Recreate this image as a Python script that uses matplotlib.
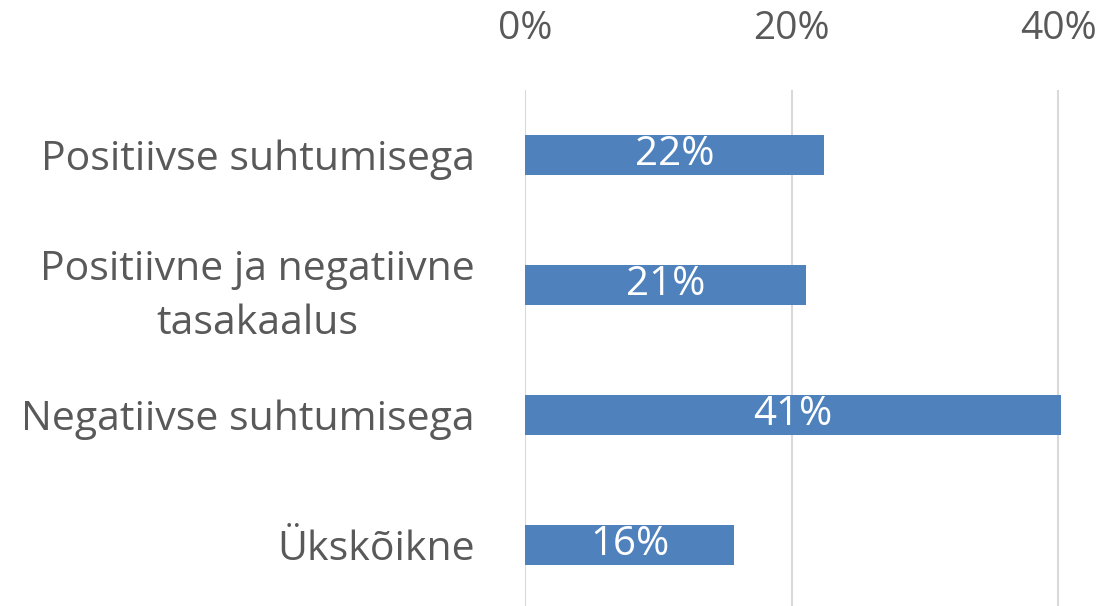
import matplotlib
matplotlib.use("Agg")
import matplotlib.pyplot as plt
from matplotlib.ticker import PercentFormatter

categories = ["Positiivse suhtumisega", "Positiivne ja negatiivne\ntasakaalus",
              "Negatiivse suhtumisega", "Ükskõikne"]
values = [0.224, 0.211, 0.41, 0.157]
labels = ["22%", "21%", "41%", "16%"]
xticks = [0, 0.2, 0.4]

W, H = 1107, 606
fig = plt.figure(figsize=(W / 100, H / 100), dpi=100)
left, right, top = 525, 1061, 90
ax = fig.add_axes([left / W, 0, (right - left) / W, (H - top) / H])

font = "Open Sans"
txt = "#595959"
ypos = list(range(len(categories)))
ax.barh(ypos, values, height=0.31, color="#4F81BD", zorder=3)
for y, v, lab in zip(ypos, values, labels):
    ax.text(min(v, 0.402) / 2, y, lab, ha="center", va="center", color="white",
            fontsize=29, family=font, zorder=4)

ax.set_xlim(0, 0.402)
ax.set_ylim(3.5 - 4 * 4 / 520, -0.5)
ax.set_xticks(xticks)
ax.xaxis.set_major_formatter(PercentFormatter(1.0, decimals=0))
ax.xaxis.tick_top()
ax.set_yticks(ypos)
ax.set_yticklabels(categories, multialignment="center", linespacing=1.45)
ax.tick_params(axis="x", length=0, pad=30, labelsize=28, labelcolor=txt)
ax.tick_params(axis="y", length=0, pad=36, labelsize=29.5, labelcolor=txt)
for t in ax.get_xticklabels() + ax.get_yticklabels():
    t.set_family(font)
ax.grid(axis="x", color="#D9D9D9", linewidth=1.5, zorder=0)
for s in ax.spines.values():
    s.set_visible(False)

fig.savefig("out.png", dpi=100)
